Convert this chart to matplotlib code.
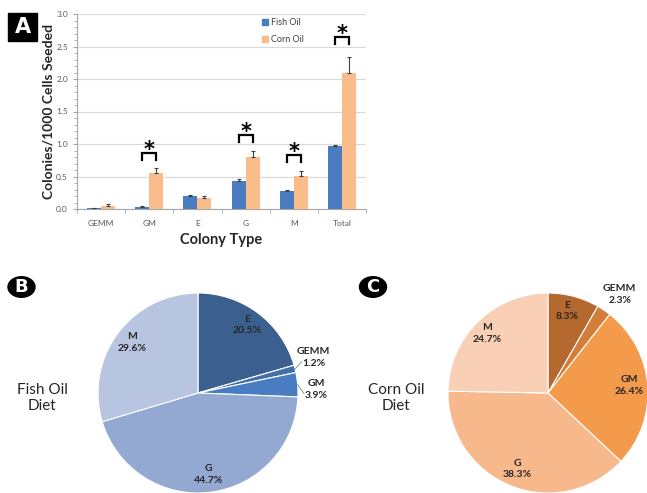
import matplotlib

matplotlib.use("Agg")
import matplotlib.pyplot as plt  # noqa: E402
import numpy as np  # noqa: E402
from matplotlib.lines import Line2D  # noqa: E402
from matplotlib.patches import Circle, Rectangle  # noqa: E402

plt.rcParams["font.family"] = ["Lato", "DejaVu Sans"]

# --- data -----------------------------------------------------------------
colony_types = ["GEMM", "GM", "E", "G", "M", "Total"]
fish_oil = [0.01, 0.03, 0.20, 0.43, 0.28, 0.97]
fish_err = [0.005, 0.01, 0.02, 0.03, 0.02, 0.02]
corn_oil = [0.05, 0.55, 0.17, 0.80, 0.51, 2.09]
corn_err = [0.02, 0.08, 0.03, 0.10, 0.08, 0.25]
sig_top = [None, 0.86, None, 1.14, 0.83, 2.65]  # bracket heights, None = n.s.

pie_labels = ["E", "GEMM", "GM", "G", "M"]
fish_pct = [20.5, 1.2, 3.9, 44.7, 29.6]
corn_pct = [8.3, 2.3, 26.4, 38.3, 24.7]

FISH = "#4a7cc1"
CORN = "#f9bc8a"
FISH_PIE = ["#3b5f8e", "#4470a8", "#4a7cc1", "#93a9d1", "#b8c5e0"]
CORN_PIE = ["#b5692f", "#d47d38", "#f49a4b", "#f7b88c", "#f9cfb6"]
TXT = "#262626"
AX = "#a6a6a6"

W, H = 647, 493
fig = plt.figure(figsize=(W / 100, H / 100), dpi=100)


def fx(x):
    return x / W


def fy(y):
    return 1 - y / H


# --- panel A: bars ----------------------------------------------------------
ax = fig.add_axes([fx(77), fy(209), fx(366) - fx(77), fy(14) - fy(209)])
x = np.arange(len(colony_types))
bw = 0.29
zeros = np.zeros(len(x))
ax.bar(x - bw / 2, fish_oil, bw, color=FISH, zorder=3, label="Fish Oil")
ax.bar(x + bw / 2, corn_oil, bw, color=CORN, zorder=3, label="Corn Oil")
ax.errorbar(x - bw / 2, fish_oil, yerr=[zeros, fish_err], fmt="none",
            ecolor="#404040", elinewidth=0.8, capsize=1.2, capthick=0.8, zorder=4)
ax.errorbar(x + bw / 2, corn_oil, yerr=[zeros, corn_err], fmt="none",
            ecolor="#404040", elinewidth=0.8, capsize=1.2, capthick=0.8, zorder=4)

# significance brackets
for xi, top in zip(x, sig_top):
    if top is None:
        continue
    x0, x1 = xi - bw / 2, xi + bw / 2
    ax.plot([x0, x0, x1, x1], [top - 0.11, top, top, top - 0.11],
            color="black", linewidth=1.6, zorder=5, solid_joinstyle="miter")
    ax.text(xi, top - 0.11, "*", ha="center", va="bottom", fontsize=15,
            fontweight="bold", color="black", family="DejaVu Sans")

ax.set_xlim(-0.5, len(x) - 0.5)
ax.set_ylim(0, 3.0)
ax.set_yticks(np.arange(0, 3.01, 0.5))
ax.set_yticks(np.arange(0, 3.01, 0.1), minor=True)
ax.set_yticklabels([f"{v:.1f}" for v in np.arange(0, 3.01, 0.5)])
ax.set_xticks(x)
ax.set_xticklabels(colony_types)
ax.set_xticks(np.arange(-0.5, len(x), 1), minor=True)
ax.tick_params(axis="x", which="major", length=0, labelsize=6, colors="#595959", pad=8)
ax.tick_params(axis="x", which="minor", length=3, color=AX, direction="out")
ax.tick_params(axis="y", which="major", length=3, labelsize=6, colors="#595959", color=AX)
ax.tick_params(axis="y", which="minor", length=2, color=AX)
ax.grid(axis="y", color="#d9d9d9", linewidth=0.8, zorder=0)
for s in ("top", "right"):
    ax.spines[s].set_visible(False)
for s in ("left", "bottom"):
    ax.spines[s].set_color(AX)
    ax.spines[s].set_linewidth(0.8)
ax.set_ylabel("Colonies/1000 Cells Seeded", fontsize=10, fontweight="bold",
              color=TXT, labelpad=1)
ax.set_xlabel("Colony Type", fontsize=10.5, fontweight="bold", color=TXT, labelpad=4)

handles = [Line2D([], [], marker="s", linestyle="", markersize=4, color=FISH),
           Line2D([], [], marker="s", linestyle="", markersize=4, color=CORN)]
ax.legend(handles, ["Fish Oil", "Corn Oil"], loc="upper left",
          bbox_to_anchor=(0.61, 1.02), frameon=False, fontsize=6.5,
          handlelength=0.8, handletextpad=0.3, labelspacing=0.9,
          labelcolor="#404040")

# panel letter A
fig.patches.append(Rectangle((fx(8), fy(41)), fx(29), fy(13) - fy(41),
                             transform=fig.transFigure, color="black"))
fig.text(fx(22.5), fy(27), "A", color="white", fontsize=15, fontweight="bold",
         ha="center", va="center", family="DejaVu Sans")


# --- panels B and C: pies -----------------------------------------------------
def pie_panel(cx, pct, colors, label_r, label_dth, leaders):
    pax = fig.add_axes([fx(cx - 100), fy(493), fx(200), fy(293) - fy(493)])
    wedges, _ = pax.pie(pct, colors=colors, startangle=90, counterclock=False,
                        wedgeprops=dict(edgecolor="white", linewidth=0.8))
    for w, lab, p, r, dth, lead in zip(wedges, pie_labels, pct, label_r,
                                       label_dth, leaders):
        mid = np.deg2rad((w.theta1 + w.theta2) / 2)
        ang = mid + np.deg2rad(dth)
        tx, ty = r * np.cos(ang), r * np.sin(ang)
        pax.text(tx, ty, f"{lab}\n{p}%", ha="center", va="center",
                 fontsize=7.5, fontweight="bold", color=TXT,
                 linespacing=1.35, clip_on=False)
        if lead:
            pax.plot([np.cos(mid), tx - 0.12], [np.sin(mid), ty - 0.04],
                     color="#808080", linewidth=0.6, clip_on=False)
    pax.set_xlim(-1, 1)
    pax.set_ylim(-1, 1)
    pax.set_aspect("equal")
    pax.axis("off")
    return pax


pie_panel(198, fish_pct, FISH_PIE, [0.84, 1.21, 1.18, 0.82, 0.83],
          [1, 3, -3, 0, -1], [False, True, True, False, False])
pie_panel(548, corn_pct, CORN_PIE, [0.84, 1.22, 0.82, 0.82, 0.85],
          [2, -2, 1, 0, 1], [False, False, False, False, False])

fig.text(fx(42), fy(398), "Fish Oil\nDiet", ha="center", va="center",
         fontsize=11, color=TXT, linespacing=1.2)
fig.text(fx(396), fy(398), "Corn Oil\nDiet", ha="center", va="center",
         fontsize=11, color=TXT, linespacing=1.2)

for cxp, letter in ((21.5, "B"), (373, "C")):
    fig.patches.append(Circle((fx(cxp), fy(287)), 13.5 / W,
                              transform=fig.transFigure, color="black"))
    fig.text(fx(cxp), fy(287), letter, color="white", fontsize=13,
             fontweight="bold", ha="center", va="center", family="DejaVu Sans")

fig.savefig("out.png", dpi=100, facecolor="white")
